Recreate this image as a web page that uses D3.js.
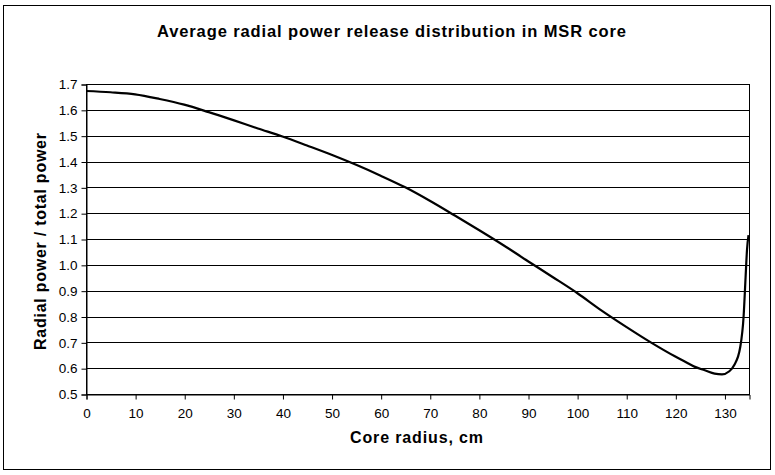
<!DOCTYPE html>
<html><head><meta charset="utf-8">
<script src="https://cdn.jsdelivr.net/npm/d3@7"></script>
<style>body{margin:0;background:#fff}svg{display:block}text{font-family:Arial,"Liberation Sans",sans-serif;fill:#000}</style>
</head><body><svg id="c" width="775" height="475"></svg>
<script>
const radius = [0,5,10,15,20,25,30,35,40,45,50,55,60,65,70,75,80,85,90,95,100,105,110,115,120,122,124,126,128,129.5,131,132,133.2,133.9,134.3,134.6,134.9];
const power  = [1.673,1.668,1.660,1.642,1.620,1.591,1.560,1.528,1.497,1.462,1.426,1.387,1.345,1.300,1.248,1.192,1.135,1.076,1.014,0.953,0.891,0.823,0.760,0.700,0.645,0.625,0.605,0.592,0.579,0.576,0.588,0.612,0.680,0.800,0.950,1.060,1.115];
const xTicks = [0,10,20,30,40,50,60,70,80,90,100,110,120,130];
const yTicks = [0.5,0.6,0.7,0.8,0.9,1.0,1.1,1.2,1.3,1.4,1.5,1.6,1.7];
const title = "Average radial power release distribution in MSR core";
const xTitle = "Core radius, cm";
const yTitle = "Radial power / total power";

const svg = d3.select("#c");
const L=86, R=749, T=84, B=394;
const x = d3.scaleLinear().domain([0,135]).range([L,R]);
const y = d3.scaleLinear().domain([0.5,1.7]).range([B,T]);

svg.append("rect").attr("x",3.5).attr("y",5.5).attr("width",767).attr("height",464)
  .attr("fill","none").attr("stroke","#000").attr("stroke-width",1);

svg.append("text").attr("x",391.5).attr("y",37).attr("text-anchor","middle")
  .attr("font-size",16.5).attr("font-weight","bold")
  .attr("textLength",469).attr("lengthAdjust","spacing").text(title);

// gridlines
svg.append("g").selectAll("line").data(yTicks.slice(1)).join("line")
  .attr("x1",L).attr("x2",R).attr("y1",d=>Math.round(y(d))+0.5).attr("y2",d=>Math.round(y(d))+0.5)
  .attr("stroke","#000").attr("stroke-width",1);
// plot border
svg.append("rect").attr("x",L+0.5).attr("y",T+0.5).attr("width",R-L).attr("height",B-T)
  .attr("fill","none").attr("stroke","#000").attr("stroke-width",1);

const yAxis = d3.axisLeft(y).tickValues(yTicks).tickFormat(d3.format(".1f")).tickSize(5).tickPadding(4);
const gy = svg.append("g").attr("transform",`translate(${L+0.5},0.5)`).call(yAxis);
const xAxis = d3.axisBottom(x).tickValues(xTicks).tickFormat(d3.format("d")).tickSize(5).tickPadding(9);
const gx = svg.append("g").attr("transform",`translate(0.5,${B+0.5})`).call(xAxis);
[gx,gy].forEach(g=>{
  g.select(".domain").attr("stroke","#000");
  g.selectAll(".tick line").attr("stroke","#000");
  g.selectAll(".tick text").attr("font-size",13.5).attr("font-family","Arial,'Liberation Sans',sans-serif").attr("fill","#000");
});

const line = d3.line().x((d,i)=>x(radius[i])).y(d=>y(d)).curve(d3.curveMonotoneX);
svg.append("path").datum(power).attr("d",line).attr("fill","none").attr("stroke","#000").attr("stroke-width",2.2);

svg.append("text").attr("x",416.5).attr("y",443).attr("text-anchor","middle")
  .attr("font-size",16).attr("font-weight","bold")
  .attr("textLength",133).attr("lengthAdjust","spacing").text(xTitle);
svg.append("text").attr("transform","translate(46,241.5) rotate(-90)").attr("text-anchor","middle")
  .attr("font-size",16).attr("font-weight","bold")
  .attr("textLength",217).attr("lengthAdjust","spacing").text(yTitle);
</script></body></html>
